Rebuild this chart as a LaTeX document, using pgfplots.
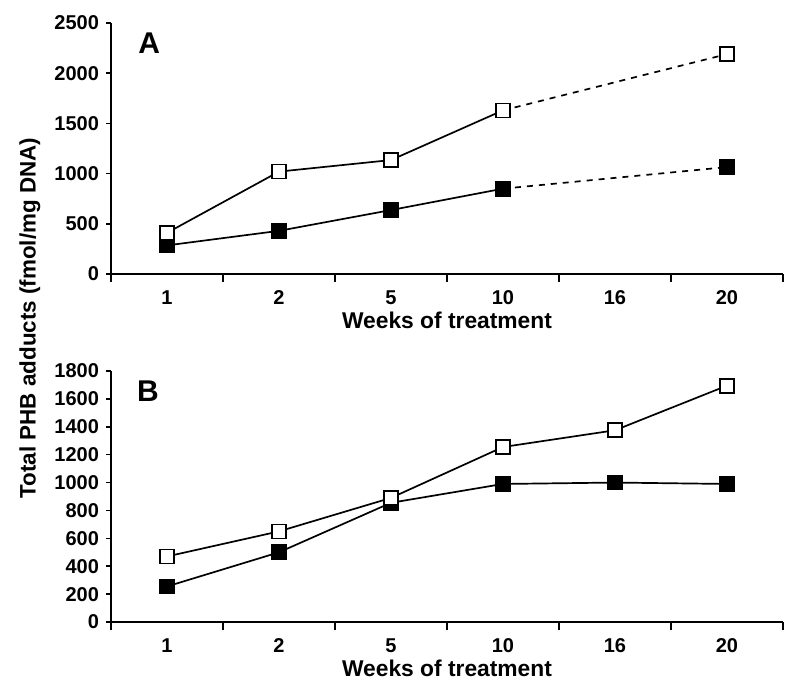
\documentclass[border=0pt]{standalone}
\usepackage{pgfplots}
\pgfplotsset{compat=1.18}
\usepackage{fontspec}
\setmainfont{Liberation Sans}

\pgfplotsset{
  panel/.style={
    scale only axis, width=336pt, height=125.5pt,
    axis x line=bottom, axis y line=left,
    axis line style={-, line width=0.8pt},
    xmin=0.5, xmax=6.5,
    xtick={1,2,3,4,5,6},
    xticklabels={1,2,5,10,16,20},
    minor xtick={0.5,1.5,2.5,3.5,4.5,5.5,6.5},
    major x tick style={draw=none},
    minor tick length=4pt,
    major tick length=2.5pt,
    tick align=outside,
    tick style={line width=0.8pt, black},
    /pgf/number format/assume math mode=true,
    /pgf/number format/1000 sep={},
    ticklabel style={font=\fontsize{10}{12}\selectfont\bfseries},
    xticklabel style={yshift=-2pt, text height=7.2pt, text depth=0pt},
    xlabel={Weeks of treatment},
    xlabel style={font=\fontsize{11.4}{13}\selectfont\bfseries,
                  at={(axis description cs:0.5,0)}, anchor=center, yshift=-23pt},
    clip=false,
  },
  filled/.style={black, line width=0.85pt, mark=square*, mark size=3.5pt,
                 mark options={solid, fill=black}},
  open/.style={black, line width=0.85pt, mark=square*, mark size=3.5pt,
               mark options={solid, fill=white}},
}

\begin{document}
\begin{tikzpicture}
% panel A
\begin{axis}[panel, at={(55.5pt,-137pt)}, anchor=south west,
  ymin=0, ymax=2500, ytick={0,500,1000,1500,2000,2500}]
  % extrapolated parts (dashed)
  \addplot[black, line width=0.85pt, dash pattern=on 3pt off 3pt] coordinates {(4,850) (6,1065)};
  \addplot[black, line width=0.85pt, dash pattern=on 3pt off 3pt] coordinates {(4,1630) (6,2190)};
  \addplot[filled] coordinates {(1,285) (2,430) (3,637) (4,850)};
  \addplot[only marks, filled] coordinates {(6,1065)};
  \addplot[open] coordinates {(1,410) (2,1020) (3,1135) (4,1630)};
  \addplot[only marks, open] coordinates {(6,2190)};
  \node[font=\fontsize{15}{17}\selectfont\bfseries] at (rel axis cs:0.057,0.92) {A};
\end{axis}
% panel B
\begin{axis}[panel, at={(55.5pt,-311pt)}, anchor=south west,
  ymin=0, ymax=1800, ytick={0,200,...,1800}]
  \addplot[filled] coordinates {(1,255) (2,500) (3,855) (4,990) (5,1000) (6,990)};
  \addplot[open] coordinates {(1,470) (2,650) (3,890) (4,1255) (5,1375) (6,1695)};
  \node[font=\fontsize{15}{17}\selectfont\bfseries] at (rel axis cs:0.055,0.92) {B};
\end{axis}
\node[rotate=90, font=\fontsize{11.2}{13}\selectfont\bfseries] at (15pt,-159pt)
  {Total PHB adducts (fmol/mg DNA)};
\pgfresetboundingbox
\path[use as bounding box] (0,0) rectangle (400pt,-346.5pt);
\end{tikzpicture}
\end{document}
